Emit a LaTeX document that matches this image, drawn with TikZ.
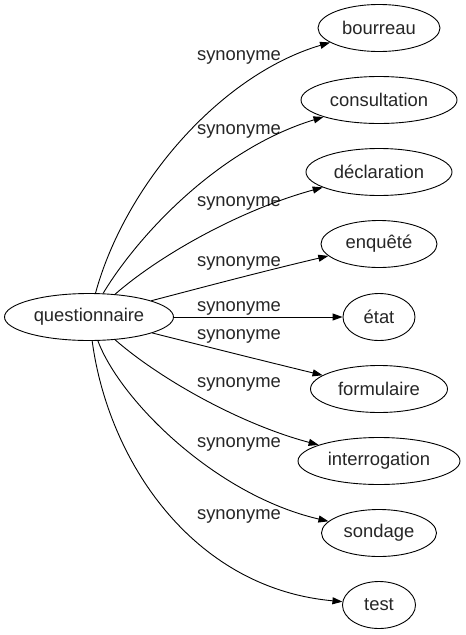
\documentclass[tikz,border=0pt]{standalone}
\usepackage{fontspec}
\setmainfont{Liberation Sans}
\usetikzlibrary{arrows.meta,shapes.geometric}
\begin{document}
\begin{tikzpicture}[x=1pt,y=-1pt,
  every node/.style={font=\fontsize{18.4}{22}\selectfont, text=black!85},
  word/.style={draw, ellipse, inner sep=0pt, minimum height=47pt, line width=0.9pt, text=black!85},
  lbl/.style={inner sep=0pt},
  rel/.style={draw, line width=0.9pt, -{Triangle[length=10pt,width=7pt]}}]
\useasboundingbox (0,0) rectangle (466,635);
\fill[white] (0,0) rectangle (466,635);

\node[word, minimum width=169pt] (q) at (89,317) {questionnaire};
\node[word, minimum width=122pt] (t1) at (379,28) {bourreau};
\node[word, minimum width=156pt] (t2) at (379,100) {consultation};
\node[word, minimum width=146pt] (t3) at (379,172) {déclaration};
\node[word, minimum width=116pt] (t4) at (379,244) {enquêté};
\node[word, minimum width=72pt]  (t5) at (379,317) {état};
\node[word, minimum width=137pt] (t6) at (379,389) {formulaire};
\node[word, minimum width=162pt] (t7) at (379,461) {interrogation};
\node[word, minimum width=115pt] (t8) at (379,533) {sondage};
\node[word, minimum width=73pt]  (t9) at (379,605) {test};

\node[lbl] (l1) at (239,57) {synonyme};
\node[lbl] (l2) at (239,131) {synonyme};
\node[lbl] (l3) at (239,203) {synonyme};
\node[lbl] (l4) at (239,263) {synonyme};
\node[lbl] (l5) at (239,308) {synonyme};
\node[lbl] (l6) at (239,336) {synonyme};
\node[lbl] (l7) at (239,384) {synonyme};
\node[lbl] (l8) at (239,444) {synonyme};
\node[lbl] (l9) at (239,516) {synonyme};

\path[rel] (q) .. controls (125,185) and (220,75) .. (t1);
\path[rel] (q) .. controls (135,240) and (215,150) .. (t2);
\path[rel] (q) .. controls (160,255) and (240,210) .. (t3);
\path[rel] (q) .. controls (200,288) and (260,272) .. (t4);
\path[rel] (q) -- (t5);
\path[rel] (q) .. controls (200,345) and (260,360) .. (t6);
\path[rel] (q) .. controls (160,379) and (240,424) .. (t7);
\path[rel] (q) .. controls (120,400) and (215,495) .. (t8);
\path[rel] (q) .. controls (108,460) and (192,588) .. (t9);
\end{tikzpicture}
\end{document}
